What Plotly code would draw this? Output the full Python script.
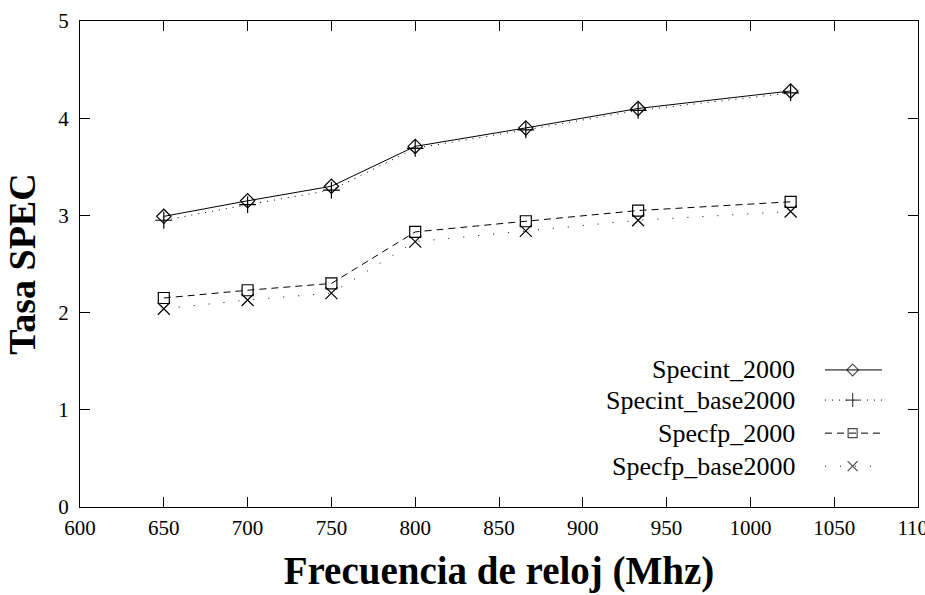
import plotly.graph_objects as go

freq = [650, 700, 750, 800, 866, 933, 1024]
specint_2000 = [2.99, 3.15, 3.30, 3.71, 3.90, 4.10, 4.28]
specint_base2000 = [2.95, 3.11, 3.26, 3.69, 3.88, 4.08, 4.26]
specfp_2000 = [2.15, 2.23, 2.30, 2.83, 2.94, 3.05, 3.14]
specfp_base2000 = [2.04, 2.13, 2.20, 2.73, 2.84, 2.95, 3.04]
names = ["Specint_2000", "Specint_base2000", "Specfp_2000", "Specfp_base2000"]

FONT = "Liberation Serif, Times New Roman, serif"
styles = [
    dict(dash="solid", symbol="diamond-open", size=11),
    dict(dash="1px,6px", symbol="cross-thin-open", size=12),
    dict(dash="7px,5px", symbol="square-open", size=11),
    dict(dash="1px,14px", symbol="x-thin-open", size=12),
]
series = [specint_2000, specint_base2000, specfp_2000, specfp_base2000]

fig = go.Figure()
for name, ys, st in zip(names, series, styles):
    fig.add_trace(go.Scatter(
        x=freq, y=ys, mode="lines+markers", name=name, showlegend=False,
        line=dict(color="black", width=1, dash=st["dash"]),
        marker=dict(symbol=st["symbol"], size=st["size"], color="black",
                    line=dict(color="black", width=1.2)),
    ))

# custom legend (text left, sample right)
leg_y = [0.282, 0.220, 0.152, 0.084]
for name, st, yy in zip(names, styles, leg_y):
    fig.add_trace(go.Scatter(
        x=[0.889, 0.922, 0.957], y=[yy, yy, yy], xaxis="x2", yaxis="y2",
        mode="lines+markers", showlegend=False, hoverinfo="skip",
        line=dict(color="black", width=1, dash=st["dash"]),
        marker=dict(symbol=st["symbol"], size=[0, st["size"] - 2, 0], color="black",
                    line=dict(color="black", width=1.2)),
    ))
    fig.add_annotation(x=0.856, y=yy, xref="x2", yref="y2", text=name,
                       showarrow=False, xanchor="right", yanchor="middle",
                       font=dict(family=FONT, size=26, color="black"))

fig.update_layout(
    width=925, height=595,
    margin=dict(l=80, r=7, t=21, b=88),
    plot_bgcolor="white", paper_bgcolor="white",
    font=dict(family=FONT, size=20, color="black"),
    xaxis=dict(range=[600, 1100], dtick=50, tick0=600, showgrid=False, zeroline=False,
               showline=True, linecolor="black", linewidth=1, mirror="ticks",
               ticks="inside", ticklen=10, tickcolor="black",
               tickfont=dict(family=FONT, size=21), ticklabelstandoff=2,
               ticklabeloverflow="allow", automargin=False,
               title=dict(text="<b>Frecuencia de reloj (Mhz)</b>",
                          font=dict(family=FONT, size=39), standoff=17)),
    yaxis=dict(range=[0, 5], dtick=1, showgrid=False, zeroline=False,
               showline=True, linecolor="black", linewidth=1, mirror="ticks",
               ticks="inside", ticklen=10, tickcolor="black",
               tickfont=dict(family=FONT, size=21), ticklabelstandoff=6,
               ticklabeloverflow="allow", automargin=False,
               title=dict(text="<b>Tasa SPEC</b>",
                          font=dict(family=FONT, size=38), standoff=10)),
    xaxis2=dict(range=[0, 1], overlaying="x", visible=False, fixedrange=True),
    yaxis2=dict(range=[0, 1], overlaying="y", visible=False, fixedrange=True),
)

fig.write_html("out.html")
